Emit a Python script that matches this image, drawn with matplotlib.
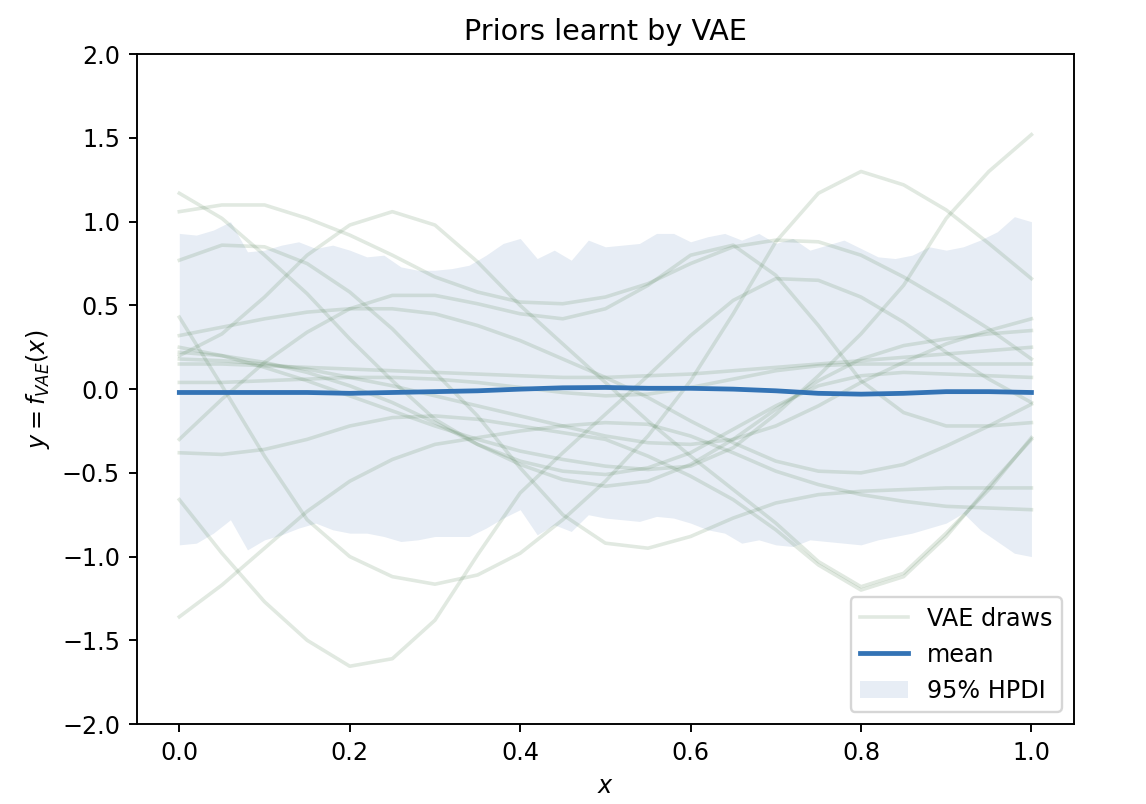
"""Priors learnt by VAE: draws, mean and 95% HPDI band"""

import numpy as np
import matplotlib
matplotlib.use("Agg")
import matplotlib.pyplot as plt
from matplotlib.lines import Line2D
from matplotlib.patches import Patch

# grid of x values the draws / mean were read at
x_grid = np.linspace(0.0, 1.0, 21)

# VAE prior draws at x = 0, 0.05, ..., 1.0
draw_01 = [1.17, 1.02, 0.80, 0.57, 0.30, 0.05, -0.18, -0.33, -0.43, -0.49, -0.51,
           -0.47, -0.38, -0.24, -0.10, 0.02, 0.08, 0.10, 0.09, 0.08, 0.07]
draw_02 = [1.06, 1.10, 1.10, 1.02, 0.92, 0.80, 0.67, 0.58, 0.52, 0.51, 0.55,
           0.63, 0.75, 0.85, 0.89, 0.88, 0.80, 0.67, 0.52, 0.36, 0.18]
draw_03 = [0.77, 0.86, 0.85, 0.75, 0.58, 0.36, 0.10, -0.16, -0.47, -0.75, -0.92,
           -0.95, -0.88, -0.77, -0.68, -0.63, -0.61, -0.60, -0.59, -0.59, -0.59]
draw_04 = [0.20, 0.33, 0.55, 0.80, 0.98, 1.06, 0.98, 0.76, 0.50, 0.27, 0.04,
           -0.19, -0.40, -0.60, -0.80, -1.03, -1.18, -1.10, -0.86, -0.60, -0.29]
draw_05 = [-0.30, -0.06, 0.16, 0.34, 0.48, 0.56, 0.56, 0.51, 0.45, 0.42, 0.48,
           0.62, 0.80, 0.86, 0.68, 0.38, 0.05, -0.14, -0.22, -0.22, -0.20]
draw_06 = [0.32, 0.37, 0.42, 0.46, 0.48, 0.48, 0.45, 0.38, 0.29, 0.18, 0.07,
           -0.05, -0.19, -0.32, -0.43, -0.49, -0.50, -0.45, -0.34, -0.22, -0.09]
draw_07 = [0.43, 0.02, -0.40, -0.78, -1.00, -1.12, -1.165, -1.11, -0.98, -0.78, -0.55,
           -0.28, 0.05, 0.45, 0.88, 1.17, 1.30, 1.22, 1.07, 0.87, 0.66]
draw_08 = [-0.66, -0.98, -1.27, -1.50, -1.655, -1.61, -1.38, -0.99, -0.62, -0.38, -0.15,
           0.08, 0.32, 0.53, 0.66, 0.65, 0.55, 0.40, 0.22, 0.06, -0.08]
draw_09 = [-1.36, -1.17, -0.95, -0.73, -0.55, -0.42, -0.33, -0.29, -0.25, -0.22, -0.20,
           -0.21, -0.28, -0.38, -0.49, -0.57, -0.63, -0.67, -0.70, -0.71, -0.72]
draw_10 = [-0.38, -0.39, -0.36, -0.30, -0.22, -0.17, -0.16, -0.18, -0.22, -0.26, -0.30,
           -0.40, -0.52, -0.66, -0.84, -1.05, -1.20, -1.12, -0.88, -0.58, -0.30]
draw_11 = [0.25, 0.20, 0.13, 0.05, -0.04, -0.13, -0.22, -0.30, -0.37, -0.42, -0.46,
           -0.48, -0.46, -0.35, -0.15, 0.08, 0.33, 0.62, 1.02, 1.30, 1.52]
draw_12 = [0.18, 0.17, 0.15, 0.12, 0.07, 0.02, -0.04, -0.10, -0.16, -0.22, -0.28,
           -0.32, -0.33, -0.30, -0.22, -0.10, 0.04, 0.16, 0.27, 0.35, 0.42]
draw_13 = [0.15, 0.15, 0.14, 0.13, 0.12, 0.11, 0.10, 0.09, 0.08, 0.07, 0.07,
           0.08, 0.09, 0.11, 0.13, 0.15, 0.17, 0.19, 0.21, 0.23, 0.25]
draw_14 = [0.04, 0.04, 0.05, 0.06, 0.07, 0.07, 0.06, 0.04, 0.01, -0.02, -0.04,
           -0.03, 0.01, 0.06, 0.11, 0.14, 0.15, 0.15, 0.15, 0.15, 0.15]
draw_15 = [0.22, 0.20, 0.16, 0.10, 0.02, -0.08, -0.20, -0.33, -0.45, -0.54, -0.58,
           -0.55, -0.45, -0.30, -0.12, 0.05, 0.18, 0.26, 0.30, 0.33, 0.35]
draws = [draw_01, draw_02, draw_03, draw_04, draw_05, draw_06, draw_07, draw_08,
         draw_09, draw_10, draw_11, draw_12, draw_13, draw_14, draw_15]

# mean of the draws
mean_y = [-0.02, -0.02, -0.02, -0.02, -0.025, -0.02, -0.015, -0.01, 0.0, 0.008, 0.01,
          0.005, 0.005, 0.0, -0.01, -0.025, -0.03, -0.025, -0.015, -0.015, -0.02]

# 95% HPDI band, read at x = 0, 0.02, ..., 1.0
band_x = np.linspace(0.0, 1.0, 51)
hpdi_upper = [0.93, 0.92, 0.95, 1.00, 0.82, 0.83, 0.86, 0.88, 0.84, 0.86,
              0.83, 0.79, 0.80, 0.73, 0.71, 0.71, 0.72, 0.74, 0.80, 0.87,
              0.90, 0.78, 0.83, 0.77, 0.89, 0.85, 0.86, 0.87, 0.93, 0.93,
              0.88, 0.91, 0.93, 0.89, 0.93, 0.87, 0.90, 0.83, 0.86, 0.89,
              0.84, 0.79, 0.78, 0.80, 0.85, 0.83, 0.85, 0.89, 0.94, 1.03, 1.00]
hpdi_lower = [-0.93, -0.92, -0.86, -0.78, -0.96, -0.90, -0.87, -0.83, -0.80, -0.84,
              -0.86, -0.86, -0.88, -0.91, -0.90, -0.88, -0.88, -0.88, -0.83, -0.77,
              -0.72, -0.87, -0.81, -0.85, -0.75, -0.77, -0.78, -0.79, -0.76, -0.77,
              -0.80, -0.84, -0.86, -0.92, -0.90, -0.93, -0.94, -0.90, -0.91, -0.92,
              -0.93, -0.90, -0.88, -0.86, -0.83, -0.80, -0.74, -0.84, -0.91, -0.98, -1.00]

draw_color = '#467846'
mean_color = '#3373b5'
band_color = 'lightsteelblue'

dpi = 172
fig = plt.figure(figsize=(1146 / dpi, 804 / dpi), dpi=dpi)
ax = fig.add_axes([0.1193, 0.0995, 0.8179, 0.833])

ax.fill_between(band_x, hpdi_lower, hpdi_upper, color=band_color, alpha=0.3, lw=0)
for d in draws:
    ax.plot(x_grid, d, color=draw_color, alpha=0.16, lw=1.5)
ax.plot(x_grid, mean_y, color=mean_color, lw=2)

ax.set_ylim(-2, 2)
ax.set_xlim(-0.05, 1.05)
ax.set_yticks(np.arange(-2.0, 2.01, 0.5))
ax.set_xticks(np.arange(0.0, 1.01, 0.2))
ax.set_title('Priors learnt by VAE', fontsize=12)
ax.set_xlabel('$x$')
ax.set_ylabel('$y = f_{VAE}(x)$')

handles = [Line2D([], [], color=draw_color, alpha=0.16, lw=1.5),
           Line2D([], [], color=mean_color, lw=2),
           Patch(facecolor=band_color, alpha=0.3, lw=0)]
ax.legend(handles, ['VAE draws', 'mean', '95% HPDI'], loc='lower right')

fig.savefig('out.png', dpi=dpi)
